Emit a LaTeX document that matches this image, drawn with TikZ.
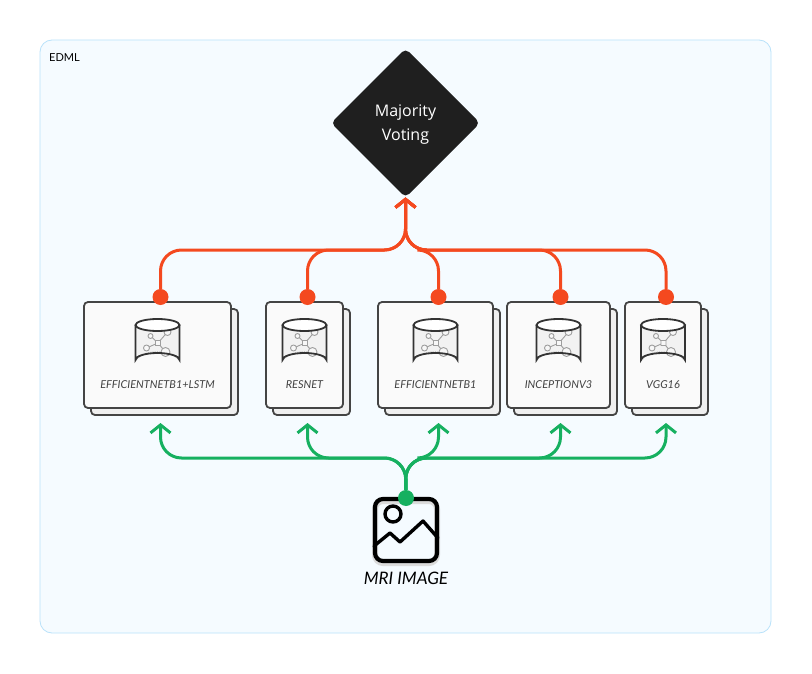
\documentclass[tikz,border=0pt]{standalone}
\usepackage{fontspec}
\setmainfont{Lato}
\newfontfamily\votefont{Open Sans}
\usetikzlibrary{arrows.meta,positioning,shapes.geometric,calc,shadows}
\definecolor{framefill}{HTML}{F5FBFF}
\definecolor{frameline}{HTML}{B9E2FA}
\definecolor{cardline}{HTML}{444444}
\definecolor{cardfill}{HTML}{FAFAFA}
\definecolor{backfill}{HTML}{EFEFEF}
\definecolor{voteflow}{HTML}{F4491F}
\definecolor{imageflow}{HTML}{16B060}
\tikzset{
    dbicon/.pic={
        \fill[black!5] (-22,-30) -- (-22,5) arc[start angle=180, end angle=360, x radius=22, y radius=7] -- (22,-30) -- cycle;
        \draw[black!22, densely dotted, line width=.8pt] (-20,4) .. controls (-12,-6) and (12,-6) .. (20,4);
        \draw[black!38, line width=.9pt] (0.5,-12) -- (-7,-19) (0.5,-12) -- (10,-23) (0.5,-12) -- (-11,-7) (0.5,-12) -- (8,-3);
        \draw[black!38, line width=.9pt, fill=black!3] (-7,-19) circle[radius=2.5] (-11,-7) circle[radius=3] (8,-3) circle[radius=4.5] (10,-23) circle[radius=3.5] (-2,-14.5) rectangle (3,-9.5);
        \draw[black!80, line width=1.8pt] (-22,-30) -- (-22,5) arc[start angle=180, end angle=360, x radius=22, y radius=7] -- (22,-30);
        \draw[black!80, line width=1.8pt, fill=white] (0,-30) ellipse[x radius=22, y radius=6];
        \node[dbtag] (-tag) at (0,30) {#1};
    }
}
\begin{document}
\begin{tikzpicture}[
    x=1pt, y=-1pt,
    card/.style={draw=cardline, line width=1.8pt, fill=cardfill, rounded corners=4pt, minimum height=106pt, outer sep=0pt, inner sep=0pt,
        copy shadow={draw=cardline, line width=1.8pt, fill=backfill, shadow xshift=7pt, shadow yshift=-7pt}},
    dbtag/.style={font=\fontsize{10.9}{12}\selectfont\itshape, text=black!75, inner sep=0pt},
    reddot/.style={circle, fill=voteflow, minimum size=16pt, inner sep=0pt, outer sep=0pt},
    greendot/.style={circle, fill=imageflow, minimum size=16pt, inner sep=0pt, outer sep=0pt},
    redline/.style={draw=voteflow, line width=3pt, rounded corners=21pt, -{Straight Barb[length=8pt,width=20pt,line width=3pt]}},
    greenline/.style={draw=imageflow, line width=3pt, rounded corners=21pt, -{Straight Barb[length=8pt,width=20pt,line width=3pt]}}
]
\useasboundingbox (0,0) rectangle (812,674);
\fill[white] (0,0) rectangle (812,674);
\node[draw=frameline, fill=framefill, line width=.8pt, rounded corners=12pt, minimum width=731pt, minimum height=593pt] (edml) at (405.5,336.5) {};
\node[font=\fontsize{11}{13}\selectfont, inner sep=0pt, anchor=west] (edmltag) at (49,57.5) {EDML};
% voting
\node[diamond, fill=black!88, rounded corners=5pt, minimum width=149pt, minimum height=149pt, inner sep=0pt, outer sep=0pt] (vote) at (405.5,123) {};
\node[align=center, text=white, font=\votefont\fontsize{16}{24}\selectfont, inner sep=0pt] (votetag) at (405.5,125) {Majority\\Voting};
% models
\node[card, minimum width=147pt] (box1) at (157.5,355) {};
\node[card, minimum width=77pt, right=35pt of box1] (box2) {};
\node[card, minimum width=115pt, right=35pt of box2] (box3) {};
\node[card, minimum width=103pt, right=14pt of box3] (box4) {};
\node[card, minimum width=76pt, right=15pt of box4] (box5) {};
\pic (db1) at (box1) {dbicon=EFFICIENTNETB1+LSTM};
\pic (db2) at (box2) {dbicon=RESNET};
\pic (db3) at (box3) {dbicon=EFFICIENTNETB1};
\pic (db4) at (box4) {dbicon=INCEPTIONV3};
\pic (db5) at (box5) {dbicon=VGG16};
% input image
\node[draw=black, line width=4.2pt, rounded corners=8pt, minimum width=62pt, minimum height=62pt, outer sep=0pt,
    preaction={draw=black!14, line width=6pt, transform canvas={yshift=-2pt}}] (mri) at (406,530) {};
\draw[line width=3.4pt] (393,514) circle[radius=8];
\draw[line width=3.4pt, line join=round, line cap=round] (374,546) -- (390,533) -- (400,542) -- (423,521) -- (438,538);
\node[font=\fontsize{17.2}{19}\selectfont\itshape, inner sep=0pt, below=11pt of mri] (mritag) {MRI IMAGE};
% connectors
\node[reddot] (rd1) at ($(box1.north)+(3,-5)$) {};
\node[reddot] (rd2) at ($(box2.north)+(3,-5)$) {};
\node[reddot] (rd3) at ($(box3.north)+(3,-5)$) {};
\node[reddot] (rd4) at ($(box4.north)+(2,-5)$) {};
\node[reddot] (rd5) at ($(box5.north)+(3,-5)$) {};
\coordinate (redbus) at (405.5,250);
\draw[redline] (rd1) |- (redbus) -- (vote.south);
\draw[redline] (rd2) |- (redbus) -- (vote.south);
\draw[redline] (rd3) |- (redbus) -- (vote.south);
\draw[redline] (rd4) |- (redbus) -- (vote.south);
\draw[redline] (rd5) |- (redbus) -- (vote.south);
\node[greendot] (gd) at ($(mri.north)+(0,-1)$) {};
\coordinate (greenbus) at (405.5,458);
\coordinate (ga1) at ($(box1.south)+(3,15)$);
\coordinate (ga2) at ($(box2.south)+(3,15)$);
\coordinate (ga3) at ($(box3.south)+(3,15)$);
\coordinate (ga4) at ($(box4.south)+(2,15)$);
\coordinate (ga5) at ($(box5.south)+(3,15)$);
\draw[greenline] (gd) -- (greenbus) -| (ga1);
\draw[greenline] (gd) -- (greenbus) -| (ga2);
\draw[greenline] (gd) -- (greenbus) -| (ga3);
\draw[greenline] (gd) -- (greenbus) -| (ga4);
\draw[greenline] (gd) -- (greenbus) -| (ga5);
\end{tikzpicture}
\end{document}
